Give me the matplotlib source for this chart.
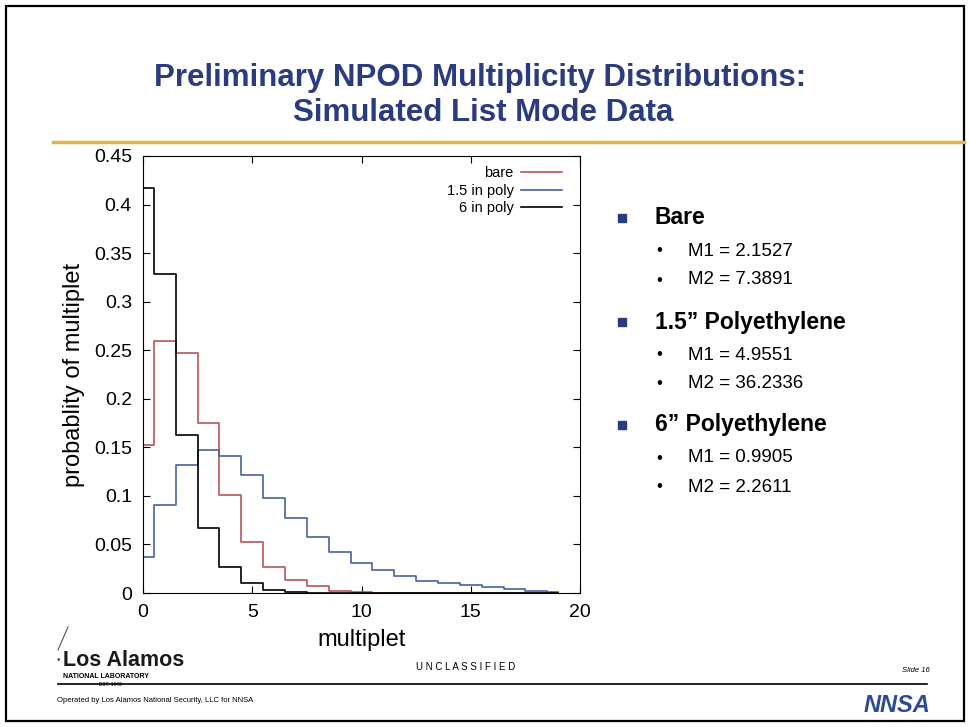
import matplotlib
matplotlib.use("Agg")
from matplotlib import pyplot as plt
import numpy as np

plt.rcParams['font.family'] = ['Liberation Sans', 'DejaVu Sans']

# multiplicity distributions
mult = np.arange(0, 20)
bare = [0.152, 0.259, 0.247, 0.175, 0.101, 0.053, 0.027, 0.0134, 0.0072, 0.0025,
        0.001, 0.0004, 0, 0, 0, 0, 0, 0, 0, 0]
poly15 = [0.0368, 0.0908, 0.132, 0.1476, 0.1407, 0.1218, 0.0977, 0.0771, 0.0581, 0.0426,
          0.0306, 0.0237, 0.0175, 0.0127, 0.0100, 0.0083, 0.0058, 0.0040, 0.0022, 0.0010]
poly6 = [0.417, 0.329, 0.163, 0.067, 0.0268, 0.010, 0.003, 0.001, 0.0003, 0,
         0, 0, 0, 0, 0, 0, 0, 0, 0, 0]
labels = ["bare", "1.5 in poly", "6 in poly"]
colors = ["#b8545c", "#46649e", "black"]

groups = ["Bare", "1.5\u201d Polyethylene", "6\u201d Polyethylene"]
m1 = ["2.1527", "4.9551", "0.9905"]
m2 = ["7.3891", "36.2336", "2.2611"]

W, H = 969, 727
fig = plt.figure(figsize=(W / 100, H / 100), dpi=100)

def fx(px):
    return px / W

def fy(py):
    return 1 - py / H

# slide frame, title and rules
fig.add_artist(plt.Rectangle((fx(6), fy(721)), fx(958), 715 / H, fill=False,
                             edgecolor="black", linewidth=1.6, transform=fig.transFigure))
navy = "#2b3b80"
fig.text(fx(480), fy(86), "Preliminary NPOD Multiplicity Distributions:", ha="center",
         va="baseline", fontsize=22.5, fontweight="bold", color=navy)
fig.text(fx(483), fy(121), "Simulated List Mode Data", ha="center", va="baseline",
         fontsize=22.5, fontweight="bold", color=navy)
fig.add_artist(plt.Line2D([fx(53), fx(964)], [fy(142), fy(142)], color="#dfb44f",
                          linewidth=2.5, transform=fig.transFigure))

# histogram panel
ax = fig.add_axes([fx(143), fy(593), fx(580) - fx(143), fy(156) - fy(593)])
for series, lab, col in zip([bare, poly15, poly6], labels, colors):
    ax.step(mult, series, where="mid", color=col, linewidth=1.2, label=lab)
ax.set_xlim(0, 20)
ax.set_ylim(0, 0.45)
ax.set_xticks([0, 5, 10, 15, 20])
ax.set_yticks(np.arange(0, 0.451, 0.05))
ax.set_yticklabels(["0", "0.05", "0.1", "0.15", "0.2", "0.25", "0.3", "0.35", "0.4", "0.45"])
ax.tick_params(direction="in", top=True, right=True, length=5, labelsize=14, pad=8)
ax.set_xlabel("multiplet", fontsize=17, labelpad=6)
ax.set_ylabel("probablity of multiplet", fontsize=17, labelpad=6)
ax.legend(loc="upper right", bbox_to_anchor=(1 - 8 / 437, 1), frameon=False,
          markerfirst=False, fontsize=10.5, handlelength=2.8, handletextpad=0.5,
          labelspacing=0.25, borderaxespad=0.3)

# bullet text on the right
heads_y = [218, 322, 425]
for g, a, b, y in zip(groups, m1, m2, heads_y):
    fig.add_artist(plt.Rectangle((fx(618), fy(y + 4)), 8 / W, 8 / H, color=navy,
                                 transform=fig.transFigure))
    fig.text(fx(655), fy(y), g, ha="left", va="center", fontsize=16.5, fontweight="bold")
    for k, t in enumerate(["M1 = " + a, "M2 = " + b]):
        yy = y + 33 + 29 * k
        fig.text(fx(659), fy(yy), "\u2022", ha="center", va="center", fontsize=12)
        fig.text(fx(688), fy(yy), t, ha="left", va="center", fontsize=13.5)

# footer
fig.add_artist(plt.Line2D([fx(58), fx(68)], [fy(650), fy(627)], color="#555555",
                          linewidth=0.8, transform=fig.transFigure))
fig.text(fx(58), fy(660), "\u2022", ha="center", va="center", fontsize=7, color="#555555")
fig.text(fx(63), fy(660), "Los Alamos", ha="left", va="center", fontsize=15.5,
         fontweight="bold", color="#1a1a1a")
fig.text(fx(63), fy(676), "NATIONAL LABORATORY", ha="left", va="center", fontsize=5,
         fontweight="bold")
fig.text(fx(110), fy(684), "EST. 1943", ha="center", va="center", fontsize=3.5)
fig.add_artist(plt.Line2D([fx(58), fx(927)], [fy(684), fy(684)], color="black",
                          linewidth=1.2, transform=fig.transFigure))
fig.text(fx(466), fy(667), "U N C L A S S I F I E D", ha="center", va="center", fontsize=7)
fig.text(fx(930), fy(671), "Slide 16", ha="right", va="center", fontsize=5.5, style="italic")
fig.text(fx(57), fy(700), "Operated by Los Alamos National Security, LLC for NNSA",
         ha="left", va="center", fontsize=5.5)
fig.text(fx(930), fy(705), "NNSA", ha="right", va="center", fontsize=17, fontweight="bold",
         style="italic", color="#2d4a9a")

fig.savefig("out.png", dpi=100)
